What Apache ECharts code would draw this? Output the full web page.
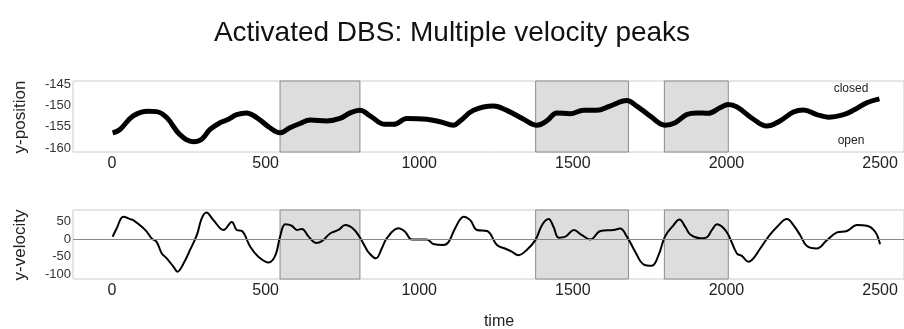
<!DOCTYPE html>
<html>
<head>
<meta charset="utf-8">
<script src="https://cdn.jsdelivr.net/npm/echarts@6/dist/echarts.min.js"></script>
<style>html,body{margin:0;padding:0;background:#fff;}#c{width:904px;height:329px;}</style>
</head>
<body>
<div id="c"></div>
<script>
const xTicks = [0, 500, 1000, 1500, 2000, 2500];
const posTicks = [-160, -155, -150, -145];
const velTicks = [-100, -50, 0, 50];
const shaded = [[547, 807], [1379, 1681], [1798, 2006]];

const posT = [2,26,69,118,145,178,221,265,292,319,352,379,406,438,471,514,547,579,612,645,699,742,775,807,840,889,917,960,1025,1068,1112,1133,1177,1242,1285,1340,1383,1415,1448,1491,1535,1578,1621,1676,1708,1751,1800,1833,1871,1904,1941,1979,2006,2034,2088,2131,2174,2218,2251,2294,2332,2381,2413,2457,2498];
const posV = [-156.4,-155.6,-152.4,-151.3,-151.4,-152.8,-156.8,-158.5,-157.9,-155.6,-154,-153.2,-152.1,-151.7,-152.8,-155.2,-156.4,-155.2,-154.2,-153.4,-153.6,-153,-151.7,-151.1,-152.4,-154.4,-154.4,-153,-153.2,-153.8,-154.6,-153.6,-151.1,-150.1,-151.1,-153.2,-154.6,-153.6,-151.7,-151.9,-151.1,-151.1,-150.1,-148.8,-150.1,-152.4,-154.6,-154,-152.1,-151.7,-151.8,-150.5,-149.7,-150.3,-153.2,-154.8,-153.6,-151.5,-151,-152.1,-152.7,-152.1,-151.1,-149.3,-148.4];

const velT = [2,15,37,59,69,97,113,129,145,162,178,200,213,233,254,276,292,307,330,363,390,406,423,450,477,510,532,547,564,585,602,618,640,664,683,710,737,759,786,808,824,835,859,878,894,932,954,976,1025,1046,1079,1096,1117,1145,1166,1188,1221,1253,1279,1301,1323,1350,1378,1400,1421,1437,1454,1476,1503,1530,1557,1590,1633,1654,1676,1703,1730,1757,1779,1800,1828,1847,1866,1882,1915,1934,1953,1969,1991,2007,2034,2050,2072,2088,2110,2137,2165,2197,2218,2240,2262,2294,2327,2360,2392,2425,2457,2484,2500];
const velV = [6.6,30,64,57,54,35,21,2,-8,-41,-55,-79,-93,-69,-31,11,59,76,54,26,49,26,23,-22,-51,-67,-46,7,42,38,26,29,7,-11,-6,16,26,40,29,3,-22,-38,-55,-27,2,31,21,-1,-1,-14,-17,-8,31,64,54,26,23,-17,-27,-36,-46,-31,-3,40,57,35,4,7,26,11,-1,23,26,30,7,-36,-72,-76,-46,7,40,56,35,13,2,4,26,42,31,11,-41,-48,-65,-55,-27,7,35,57,40,11,-20,-27,-3,19,23,40,38,21,-15];

const FONT = '"Liberation Sans", Arial, sans-serif';
const chart = echarts.init(document.getElementById('c'), null, {renderer: 'canvas'});

const areaData = shaded.map(s => [{xAxis: s[0]}, {xAxis: s[1]}]);
const markArea = {
  silent: true,
  itemStyle: {color: '#dddddd', borderColor: '#8a8a8a', borderWidth: 1},
  data: areaData
};

function xAxisDef(gi) {
  return {
    type: 'value', gridIndex: gi, min: -127, max: 2578,
    axisLine: {show: false}, axisTick: {show: false}, splitLine: {show: false},
    axisLabel: {customValues: xTicks, formatter: v => String(v), fontSize: 16, color: '#222', fontFamily: FONT, margin: 4}
  };
}
function yAxisDef(gi, min, max, ticks) {
  return {
    type: 'value', gridIndex: gi, min: min, max: max,
    axisLine: {show: false}, axisTick: {show: false}, splitLine: {show: false},
    axisLabel: {customValues: ticks, formatter: v => String(v), fontSize: 13, color: '#333', fontFamily: FONT, margin: 2}
  };
}

chart.setOption({
  animation: false,
  title: {
    text: 'Activated DBS: Multiple velocity peaks', left: 'center', top: 14,
    textStyle: {fontSize: 28, fontWeight: 'normal', color: '#111', fontFamily: FONT}
  },
  grid: [
    {left: 73, right: -2, top: 81, height: 71, show: true, borderColor: '#cccccc', borderWidth: 1, backgroundColor: '#fff'},
    {left: 73, right: -2, top: 210, height: 69, show: true, borderColor: '#cccccc', borderWidth: 1, backgroundColor: '#fff'}
  ],
  xAxis: [xAxisDef(0), xAxisDef(1)],
  yAxis: [yAxisDef(0, -160.9, -144.2, posTicks), yAxisDef(1, -114, 83, velTicks)],
  series: [
    {
      type: 'line', xAxisIndex: 0, yAxisIndex: 0, smooth: 0.4, showSymbol: false,
      lineStyle: {color: '#000', width: 5},
      data: posT.map((t, i) => [t, posV[i]]),
      markArea: markArea
    },
    {
      type: 'line', xAxisIndex: 1, yAxisIndex: 1, smooth: 0.4, showSymbol: false,
      lineStyle: {color: '#000', width: 2},
      data: velT.map((t, i) => [t, velV[i]]),
      markArea: markArea,
      markLine: {
        silent: true, symbol: 'none', label: {show: false},
        lineStyle: {color: '#8a8a8a', type: 'solid', width: 1},
        data: [{yAxis: 0}]
      }
    }
  ],
  graphic: [
    {type: 'text', x: 20, y: 117, rotation: Math.PI / 2,
     style: {text: 'y-position', font: '17px ' + FONT, fill: '#222', textAlign: 'center', textVerticalAlign: 'middle'}},
    {type: 'text', x: 20, y: 245, rotation: Math.PI / 2,
     style: {text: 'y-velocity', font: '17px ' + FONT, fill: '#222', textAlign: 'center', textVerticalAlign: 'middle'}},
    {type: 'text', x: 851, y: 89,
     style: {text: 'closed', font: '12px ' + FONT, fill: '#222', textAlign: 'center', textVerticalAlign: 'middle'}},
    {type: 'text', x: 851, y: 141,
     style: {text: 'open', font: '12px ' + FONT, fill: '#222', textAlign: 'center', textVerticalAlign: 'middle'}},
    {type: 'text', x: 499, y: 322,
     style: {text: 'time', font: '16px ' + FONT, fill: '#222', textAlign: 'center', textVerticalAlign: 'middle'}}
  ]
});
</script>
</body>
</html>
